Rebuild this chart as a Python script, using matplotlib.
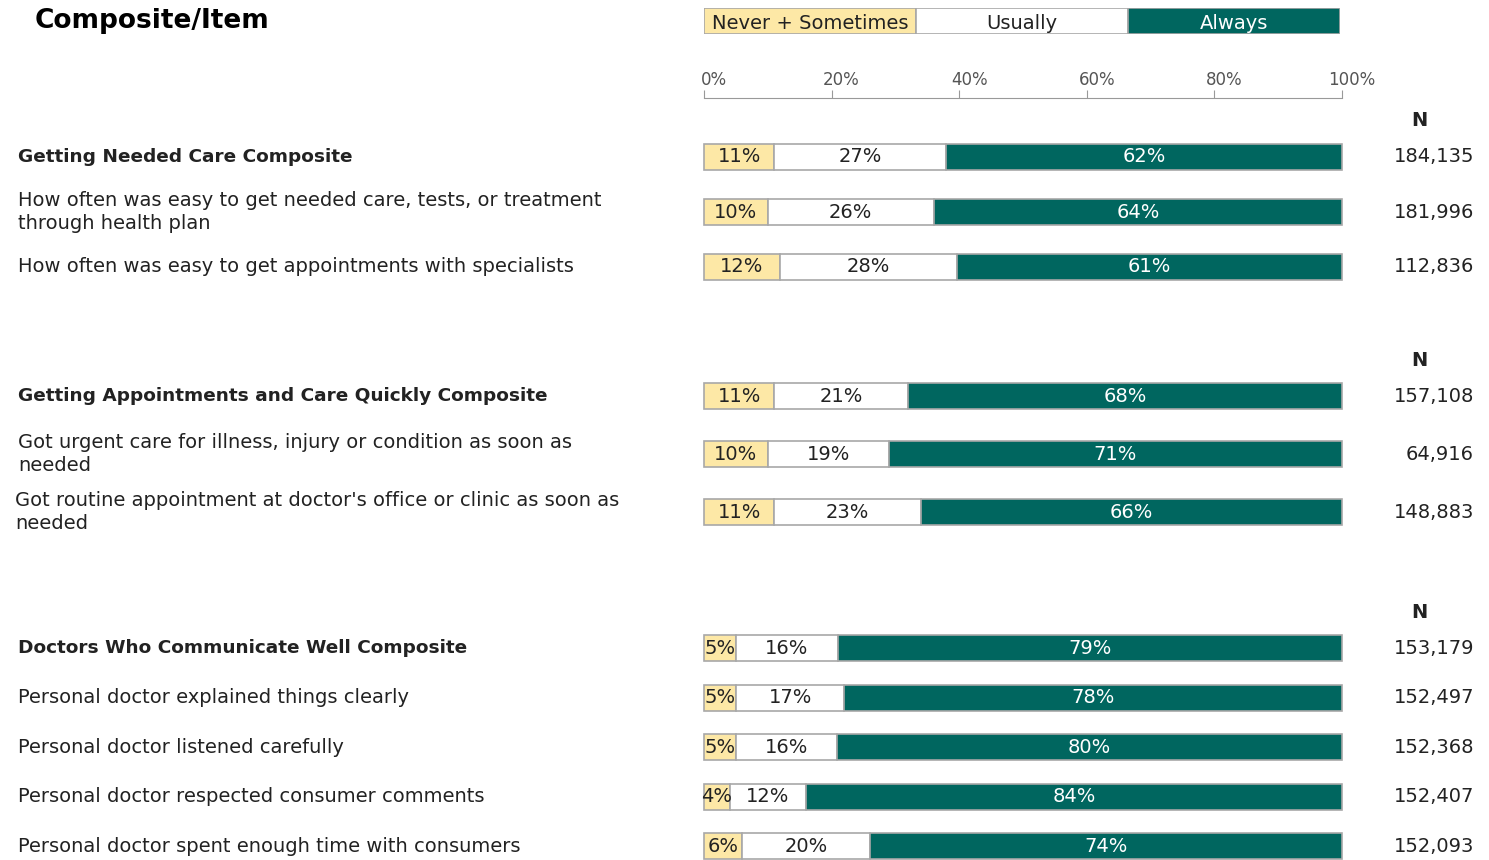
import matplotlib.pyplot as plt
from matplotlib.patches import Rectangle
from matplotlib.transforms import ScaledTranslation

W, H = 1489, 860

# data
labels = [
    "Getting Needed Care Composite",
    "How often was easy to get needed care, tests, or treatment\nthrough health plan",
    "How often was easy to get appointments with specialists",
    "Getting Appointments and Care Quickly Composite",
    "Got urgent care for illness, injury or condition as soon as\nneeded",
    "Got routine appointment at doctor's office or clinic as soon as\nneeded",
    "Doctors Who Communicate Well Composite",
    "Personal doctor explained things clearly",
    "Personal doctor listened carefully",
    "Personal doctor respected consumer comments",
    "Personal doctor spent enough time with consumers",
]
is_composite = [True, False, False, True, False, False, True, False, False, False, False]
never_sometimes = [11, 10, 12, 11, 10, 11, 5, 5, 5, 4, 6]
usually = [27, 26, 28, 21, 19, 23, 16, 17, 16, 12, 20]
always = [62, 64, 61, 68, 71, 66, 79, 78, 80, 84, 74]
n_counts = ["184,135", "181,996", "112,836", "157,108", "64,916", "148,883",
            "153,179", "152,497", "152,368", "152,407", "152,093"]
group_sizes = [3, 3, 5]
legend_labels = ["Never + Sometimes", "Usually", "Always"]

# layout (pixel units)
group_first_y = [157, 396, 648]
group_pitch = [55, 58, 49.6]
bar_left, bar_right = 704, 1342
bar_h = 26

yellow = "#FDE8A6"
teal = "#00665F"
edge = "#A8A8A8"
txt = "#222222"

ys = []
for start, pitch, size in zip(group_first_y, group_pitch, group_sizes):
    ys += [start + i * pitch for i in range(size)]

# rounded shares do not always add to 100, so scale each row to the full bar
totals = [a + b + c for a, b, c in zip(never_sometimes, usually, always)]
ns_w = [v * 100 / t for v, t in zip(never_sometimes, totals)]
us_w = [v * 100 / t for v, t in zip(usually, totals)]
al_w = [v * 100 / t for v, t in zip(always, totals)]
us_left = ns_w
al_left = [a + b for a, b in zip(ns_w, us_w)]

fig = plt.figure(figsize=(W / 100, H / 100), dpi=100)
scale = (bar_right - bar_left) / 100.0
ax = fig.add_axes([0, 0, 1, 1])
ax.set_xlim(-bar_left / scale, (W - bar_left) / scale)
ax.set_ylim(H, 0)
ax.axis("off")


def px(x):
    return (x - bar_left) / scale


ax.barh(ys, ns_w, left=0, height=bar_h, color=yellow,
        edgecolor=edge, linewidth=1.2)
ax.barh(ys, us_w, left=us_left, height=bar_h, color="white",
        edgecolor=edge, linewidth=1.2)
ax.barh(ys, al_w, left=al_left, height=bar_h, color=teal,
        edgecolor=edge, linewidth=1.2)

for i, y in enumerate(ys):
    ax.text(ns_w[i] / 2, y, f"{never_sometimes[i]}%", ha="center",
            va="center", fontsize=14, color=txt)
    ax.text(us_left[i] + us_w[i] / 2, y, f"{usually[i]}%", ha="center",
            va="center", fontsize=14, color=txt)
    ax.text(al_left[i] + al_w[i] / 2, y, f"{always[i]}%", ha="center",
            va="center", fontsize=14, color="white")
    ax.text(px(1474), y, n_counts[i], ha="right", va="center",
            fontsize=14, color=txt)
    lx = 15 if i == 5 else 18
    ax.text(px(lx), y, labels[i], ha="left", va="center", linespacing=1.3,
            fontsize=14 if not is_composite[i] else 13.3,
            fontweight="bold" if is_composite[i] else "normal", color=txt)

for start in group_first_y:
    ax.text(px(1419), start - 36, "N", ha="center", va="center",
            fontsize=14, fontweight="bold", color=txt)

fig.text(35 / W, 1 - 21 / H, "Composite/Item", ha="left", va="center",
         fontsize=19, fontweight="bold", color="black")

# legend strip
lax = fig.add_axes([bar_left / W, 1 - 34 / H, 636 / W, 26 / H])
lax.set_xlim(0, 3)
lax.set_ylim(0, 1)
lax.axis("off")
for k, (lab, col) in enumerate(zip(legend_labels, [yellow, "white", teal])):
    lax.add_patch(Rectangle((k, 0), 1, 1, facecolor=col, edgecolor=edge,
                            linewidth=1.2))
    lax.text(k + 0.5, 0.42, lab, ha="center", va="center", fontsize=14,
             color="white" if col == teal else txt)

# percentage scale
sax = fig.add_axes([bar_left / W, 1 - 98 / H, (bar_right - bar_left) / W, 8 / H])
sax.set_xlim(0, 100)
sax.set_yticks([])
for s in ["top", "left", "right"]:
    sax.spines[s].set_visible(False)
sax.spines["bottom"].set_color("#999999")
sax.set_xticks([0, 20, 40, 60, 80, 100])
sax.set_xticklabels(["0%", "20%", "40%", "60%", "80%", "100%"])
sax.tick_params(axis="x", direction="in", length=6, color="#999999",
                labelbottom=False, labeltop=True, top=False, bottom=True,
                labelsize=12, labelcolor="#555555", pad=1)
off = ScaledTranslation(10 / 100, 0, fig.dpi_scale_trans)
for t in sax.get_xticklabels():
    t.set_transform(t.get_transform() + off)

fig.savefig("out.png", dpi=100)
